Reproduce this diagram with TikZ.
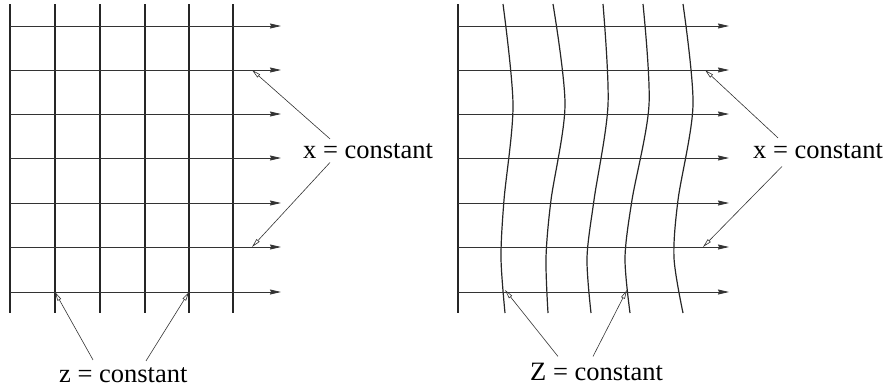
\documentclass[tikz,border=0pt]{standalone}
\usepackage{fontspec}
\setmainfont{Liberation Serif}
\usepackage{tikz}
\usetikzlibrary{arrows.meta}

\begin{document}
\begin{tikzpicture}[
  x=1pt, y=-1pt,
  gridline/.style={line width=1.2pt, black!85},
  flow/.style={-{Stealth[length=11pt, width=5pt, inset=1pt]}, line width=0.8pt, black!80},
  leader/.style={-{Triangle[open, length=9pt, width=4pt]}, line width=0.6pt, black!80},
  label/.style={anchor=base west, inner sep=3pt, font=\fontsize{26.5}{30}\selectfont}
]
  \useasboundingbox (0,0) rectangle (886,389);

  % left grid
  \foreach \xx in {10,55,100,145,189,233}
    \draw[gridline] (\xx,4) -- (\xx,313);
  \foreach \yy in {26,70,114,158,203,247,292}
    \draw[flow] (10,\yy) -- (281,\yy);

  % right grid, curved z lines
  \draw[gridline] (458,4) -- (458,313);
  \foreach \pa/\pb/\pc/\pd/\pe in {503/513/504/501/505, 553/565/551/546/548,
      603/608/594/587/591, 643/649/632/625/630, 683/693/678/674/683}
    \draw[gridline] plot[smooth] coordinates {(\pa,4) (\pb,105) (\pc,200) (\pd,258) (\pe,313)};
  \foreach \yy in {26,70,114,158,203,247,292}
    \draw[flow] (458,\yy) -- (729,\yy);

  % labels
  \node[label] (xleft) at (300,158) {x = constant};
  \node[label] (zleft) at (56,382) {z = constant};
  \node[label] (xright) at (750,158) {x = constant};
  \node[label] (zright) at (527,380) {Z = constant};

  % pointer targets
  \coordinate (xl1) at (252,70);
  \coordinate (xl2) at (252,247);
  \coordinate (zl1) at (55,292);
  \coordinate (zl2) at (189,292);
  \coordinate (xr1) at (705,70);
  \coordinate (xr2) at (703,247);
  \coordinate (zr1) at (505,290);
  \coordinate (zr2) at (627,290);

  \draw[leader] ([xshift=30pt, yshift=1pt]xleft.north west) -- (xl1);
  \draw[leader] ([xshift=30pt, yshift=-1pt]xleft.south west) -- (xl2);
  \draw[leader] ([xshift=37pt, yshift=4pt]zleft.north west) -- (zl1);
  \draw[leader] ([xshift=90pt, yshift=3pt]zleft.north west) -- (zl2);
  \draw[leader] ([xshift=28pt, yshift=2pt]xright.north west) -- (xr1);
  \draw[leader] ([xshift=32pt, yshift=-5pt]xright.south west) -- (xr2);
  \draw[leader] ([xshift=31pt, yshift=3pt]zright.north west) -- (zr1);
  \draw[leader] ([xshift=66pt, yshift=3pt]zright.north west) -- (zr2);
\end{tikzpicture}
\end{document}
